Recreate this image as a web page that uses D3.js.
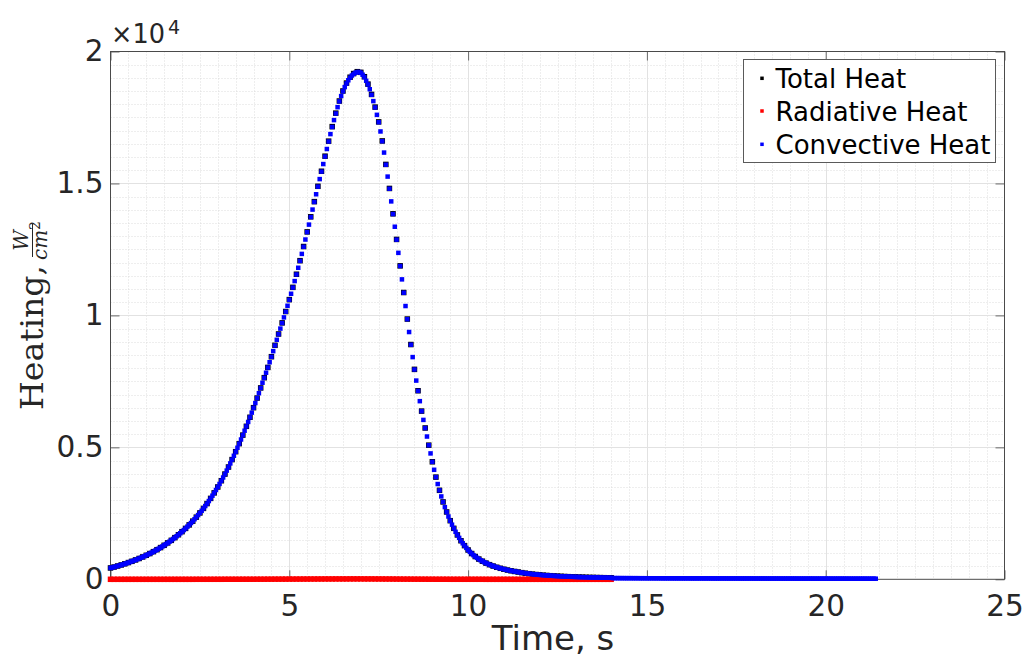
<!DOCTYPE html>
<html><head><meta charset="utf-8">
<script src="https://cdn.jsdelivr.net/npm/d3@7"></script>
<style>body{margin:0;background:#fff;} svg{display:block;}</style>
</head><body><svg id="chart" width="1026" height="664"></svg>
<script>
// ---------------- data ----------------
const DT = 0.05;      // convective sampling step, s
const RAD_DT = 0.1;   // radiative sampling step, s
// Convective heat, W/cm^2, t = 0 ... 21.40 s
const convective = [
430,447,465,484,504,524,544,565,587,610,634,658,682,708,734,761,789,817,847,878,
910,942,976,1011,1047,1084,1122,1161,1202,1244,1288,1333,1379,1426,1476,1527,1579,1632,1688,1745,
1805,1866,1929,1995,2062,2132,2203,2277,2354,2433,2514,2598,2686,2776,2869,2965,3065,3168,3274,3384,
3497,3613,3734,3858,3986,4119,4253,4391,4534,4681,4834,4984,5138,5297,5461,5630,5794,5963,6137,6316,
6500,6679,6864,7053,7248,7449,7636,7828,8024,8225,8430,8645,8860,9075,9290,9500,9710,9925,10140,10365,
10590,10820,11055,11300,11550,11805,12065,12330,12600,12875,13155,13440,13725,14010,14300,14590,14880,15165,15450,15735,
16020,16305,16590,16870,17140,17400,17650,17890,18110,18310,18490,18650,18790,18910,19010,19090,19150,19195,19220,19225,
19195,19120,19030,18890,18750,18570,18360,18120,17880,17600,17320,16970,16600,16170,15710,15260,14800,14320,13840,13360,
12870,12370,11870,11365,10860,10355,9855,9370,8890,8420,7950,7530,7140,6750,6370,6040,5730,5410,5080,4770,
4450,4150,3870,3610,3370,3140,2930,2735,2550,2380,2220,2070,1930,1800,1680,1570,1460,1365,1275,1190,
1110,1040,975,915,862,812,766,724,685,648,614,583,554,527,502,478,456,436,417,399,
382,366,351,337,323,310,298,287,276,263,252,241,231,221,212,204,196,188,181,174,
168,162,156,151,146,141,136,132,128,124,120,116,113,110,106,103,100,97,95,92,
90,87,85,83,81,79,77,75,73,71,70,68,67,65,64,62,61,60,59,58,
57,46,45,45,45,44,44,44,43,43,43,43,42,42,42,42,41,41,41,41,
40,40,40,40,39,39,39,39,39,38,38,38,38,38,37,37,37,37,37,36,
36,36,36,36,36,35,35,35,35,35,35,34,34,34,34,34,34,33,33,33,
33,33,33,33,33,32,32,32,32,32,32,32,31,31,31,31,31,31,31,30,
30,30,30,30,30,30,30,29,29,29,29,29,29,29,29,28,28,28,28,28,
28,28,28,28,27,27,27,27,27,27,27,27,27,26,26,26,26,26,26,26,
26,26,26,25,25,25,25,25,25,25,25,25,25,24,24,24,24,24,24,24,
24,24,24,23,23,23,23,23,23
];
// Radiative heat, W/cm^2, t = 0 ... 14.0 s
const radiative = [
0,0,0,0,0,0,0,0,0,0,
0,0,0,0,0,0,0,0,0,0,
0,0,0,0,1,1,1,1,1,1,
1,1,2,2,2,2,2,3,3,3,
3,4,4,4,5,5,6,6,7,7,
8,8,9,9,10,10,11,11,12,12,
13,13,13,14,14,14,14,15,15,15,
15,14,14,14,13,13,12,11,11,10,
9,8,7,7,6,5,5,4,4,3,
3,2,2,2,2,1,1,1,1,1,
1,1,1,1,1,0,0,0,0,0,
0,0,0,0,0,0,0,0,0,0,
0,0,0,0,0,0,0,0,0,0,
0,0,0,0,0,0,0,0,0,0,
0
];
const seriesNames = ["Total Heat", "Radiative Heat", "Convective Heat"];
const seriesColors = ["#000000", "#ff0000", "#0000ff"];
const xTicks = [0, 5, 10, 15, 20, 25];
const yTicks = [0, 5000, 10000, 15000, 20000];
const yTickLabels = ["0", "0.5", "1", "1.5", "2"];

// ---------------- derived series ----------------
const convPts = convective.map((v, i) => ({t: +(i * DT).toFixed(2), v}));
const radPts = radiative.map((v, i) => ({t: +(i * RAD_DT).toFixed(2), v}));
const totPts = radPts.map((d, j) => ({t: d.t, v: d.v + convective[Math.round(d.t / DT)]}));

// ---------------- layout ----------------
const svg = d3.select("#chart");
const L = 110.5, R = 1004.5, T = 51.5, B = 579.3;
const x = d3.scaleLinear().domain([0, 25]).range([L, R]);
const y = d3.scaleLinear().domain([0, 20000]).range([B, T]);
const axisColor = "#262626";
const font = "'DejaVu Sans', sans-serif";

svg.append("rect").attr("width", 1026).attr("height", 664).attr("fill", "#fff");

// minor grid
const gMinor = svg.append("g").attr("stroke", "#d4d4d4").attr("stroke-width", 0.8).attr("stroke-dasharray", "1,2");
d3.range(0.5, 25, 0.5).filter(v => v % 5 !== 0).forEach(v => {
  gMinor.append("line").attr("x1", Math.round(x(v)) + 0.5).attr("x2", Math.round(x(v)) + 0.5).attr("y1", T).attr("y2", B);
});
d3.range(500, 20000, 500).filter(v => v % 5000 !== 0).forEach(v => {
  gMinor.append("line").attr("y1", Math.round(y(v)) + 0.5).attr("y2", Math.round(y(v)) + 0.5).attr("x1", L).attr("x2", R);
});
// major grid
const gMajor = svg.append("g").attr("stroke", "#e2e2e2").attr("stroke-width", 1);
xTicks.slice(1, -1).forEach(v => {
  gMajor.append("line").attr("x1", Math.round(x(v)) + 0.5).attr("x2", Math.round(x(v)) + 0.5).attr("y1", T).attr("y2", B);
});
yTicks.slice(1, -1).forEach(v => {
  gMajor.append("line").attr("y1", Math.round(y(v)) + 0.5).attr("y2", Math.round(y(v)) + 0.5).attr("x1", L).attr("x2", R);
});

// axes with d3 axis generators (ticks inward)
const fmtY = d => yTickLabels[yTicks.indexOf(d)];
const axB = svg.append("g").attr("transform", `translate(0,${B})`)
  .call(d3.axisBottom(x).tickValues(xTicks).tickSizeInner(-9).tickSizeOuter(0).tickPadding(15.5).tickFormat(d3.format("d")));
const axT = svg.append("g").attr("transform", `translate(0,${T})`)
  .call(d3.axisTop(x).tickValues(xTicks).tickSizeInner(-9).tickSizeOuter(0).tickFormat(""));
const axL = svg.append("g").attr("transform", `translate(${L},0)`)
  .call(d3.axisLeft(y).tickValues(yTicks).tickSizeInner(-9).tickSizeOuter(0).tickPadding(7).tickFormat(fmtY));
const axR = svg.append("g").attr("transform", `translate(${R},0)`)
  .call(d3.axisRight(y).tickValues(yTicks).tickSizeInner(-9).tickSizeOuter(0).tickFormat(""));
[axB, axT, axL, axR].forEach(g => {
  g.select(".domain").remove();
  g.selectAll(".tick line").attr("stroke", "#6a6a6a");
  g.selectAll("text").attr("fill", axisColor).style("font-family", font).style("font-size", "29.5px");
});
// box
svg.append("rect").attr("x", L).attr("y", T).attr("width", R - L).attr("height", B - T)
  .attr("fill", "none").attr("stroke", "#4a4a4a").attr("stroke-width", 1);

// exponent label
svg.append("text").attr("x", 111).attr("y", 43).attr("fill", axisColor)
  .attr("textLength", 54).attr("lengthAdjust", "spacingAndGlyphs")
  .style("font-family", font).style("font-size", "27px").text("\u00d710");
svg.append("text").attr("x", 168).attr("y", 34).attr("fill", axisColor)
  .style("font-family", font).style("font-size", "19px").text("4");

// x label
svg.append("text").attr("x", 553).attr("y", 650).attr("text-anchor", "middle").attr("fill", axisColor)
  .style("font-family", font).style("font-size", "34px").text("Time, s");

// y label (LaTeX-like)
const serif = "'DejaVu Serif', 'Liberation Serif', serif";
const yl = svg.append("g").attr("transform", "translate(43,410) rotate(-90)").attr("fill", axisColor);
yl.append("text").attr("x", 0).attr("y", 0).style("font-family", serif).style("font-size", "31px")
  .attr("textLength", 145).attr("lengthAdjust", "spacingAndGlyphs").text("Heating,");
const fx0 = 153, fw = 33;
yl.append("text").attr("x", fx0 + fw / 2).attr("y", -15).attr("text-anchor", "middle")
  .style("font-family", serif).style("font-style", "italic").style("font-size", "20px").text("W");
yl.append("line").attr("x1", fx0).attr("x2", fx0 + fw).attr("y1", -10.5).attr("y2", -10.5)
  .attr("stroke", axisColor).attr("stroke-width", 1);
const den = yl.append("text").attr("x", fx0 + fw / 2).attr("y", 4).attr("text-anchor", "middle")
  .style("font-family", serif).style("font-style", "italic").style("font-size", "20px");
den.append("tspan").text("cm");
den.append("tspan").attr("dy", -7).style("font-size", "14px").style("font-style", "normal").text("2");

// ---------------- series ----------------
const markerSizes = [5.5, 5.5, 4.5];
const allSeries = [totPts, radPts, convPts];
allSeries.forEach((pts, k) => {
  const ms = markerSizes[k];
  svg.append("g").attr("fill", seriesColors[k])
    .selectAll("rect").data(pts).join("rect")
    .attr("x", d => x(d.t) - ms / 2).attr("y", d => y(d.v) - ms / 2)
    .attr("width", ms).attr("height", ms);
});

// ---------------- legend ----------------
const lg = svg.append("g");
lg.append("rect").attr("x", 743.5).attr("y", 59.5).attr("width", 252).attr("height", 103)
  .attr("fill", "#fff").attr("stroke", "#5a5a5a").attr("stroke-width", 1);
const rowY = [78.3, 111, 144.3];
seriesNames.forEach((name, k) => {
  lg.append("rect").attr("x", 762 - 1.75).attr("y", rowY[k] - 1.75).attr("width", 3.5).attr("height", 3.5)
    .attr("fill", seriesColors[k]);
  lg.append("text").attr("x", 775.5).attr("y", rowY[k] + 9.5).attr("fill", "#000")
    .style("font-family", font).style("font-size", "26px").text(name);
});
</script>
</body></html>
